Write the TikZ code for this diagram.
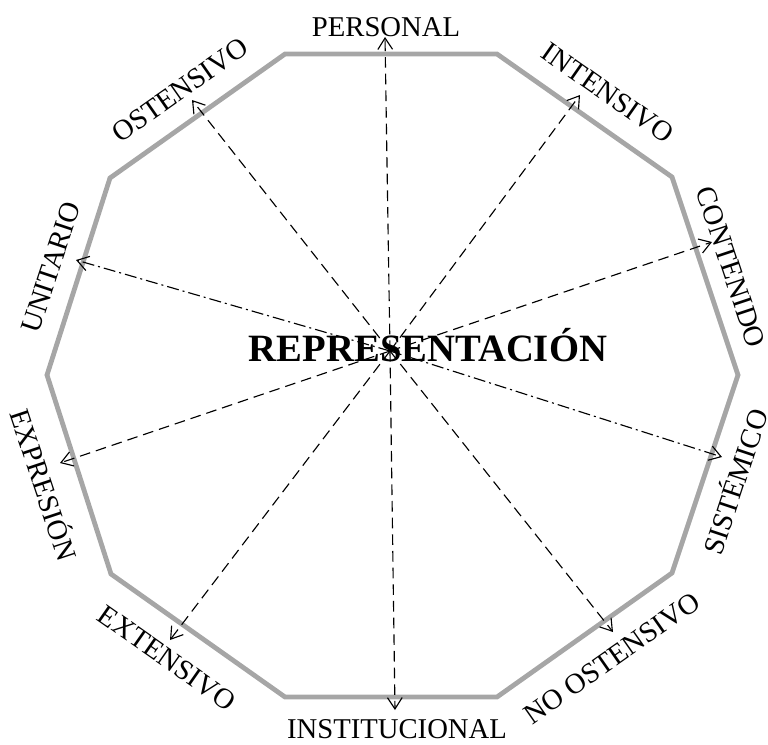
\documentclass[tikz,border=0pt]{standalone}
\usepackage{fontspec}
\setmainfont{Liberation Serif}
\usetikzlibrary{arrows.meta}
\usepackage{xcolor}
\definecolor{bordegris}{HTML}{A6A6A6}

\tikzset{
  rayo/.style={-{Straight Barb[length=8.5pt,width=11pt]},line width=0.85pt,dash pattern=on 8pt off 4.5pt},
  rayopunto/.style={rayo,dash pattern=on 9pt off 3pt on 1.5pt off 3pt},
  etiq/.style={font=\fontsize{21.5}{26}\selectfont,inner sep=0pt,text height=14.2pt,text depth=0pt}
}

\begin{document}
\begin{tikzpicture}[x=0.75pt,y=-0.75pt]
  \useasboundingbox (0,0) rectangle (768,744);
  % decágono
  \draw[bordegris,line width=3.6pt,line join=miter]
    (285,54) -- (497,54) -- (672,177) -- (738,375) -- (672,573)
    -- (497,697) -- (285,697) -- (111,574) -- (47,375) -- (110,178) -- cycle;
  % centro y puntas
  \coordinate (centro) at (390,351);
  \coordinate (pPer) at (385,37);
  \coordinate (pInt) at (580,95);
  \coordinate (pCon) at (712,242);
  \coordinate (pSis) at (722,457);
  \coordinate (pNoo) at (613,632);
  \coordinate (pIns) at (395,710);
  \coordinate (pExt) at (170,640);
  \coordinate (pExp) at (60,463);
  \coordinate (pUni) at (76,260);
  \coordinate (pOst) at (192,100);
  \foreach \p in {pPer,pInt,pCon,pNoo,pIns,pExt,pExp,pOst}
    \draw[rayo] (centro) -- (\p);
  \draw[rayopunto] (centro) -- (pSis);
  \draw[rayopunto] (centro) -- (pUni);
  % etiquetas
  \node[font=\bfseries\fontsize{29}{34}\selectfont,anchor=base] (titulo) at (428,361) {REPRESENTACIÓN};
  \node[etiq] (personal) at (386,27) {PERSONAL};
  \node[etiq,rotate=-35] (intensivo) at (608,93) {INTENSIVO};
  \node[etiq,rotate=-71.6] (contenido) at (731,267) {CONTENIDO};
  \node[etiq,rotate=71.6] (sistemico) at (736,482) {SISTÉMICO};
  \node[etiq,rotate=35] (noostensivo) at (612,658) {NO OSTENSIVO};
  \node[etiq] (institucional) at (397,729) {INSTITUCIONAL};
  \node[etiq,rotate=-35] (extensivo) at (167,658) {EXTENSIVO};
  \node[etiq,rotate=-71.6] (expresion) at (43,485) {EXPRESIÓN};
  \node[etiq,rotate=71.6] (unitario) at (51,267) {UNITARIO};
  \node[etiq,rotate=35] (ostensivo) at (180,90) {OSTENSIVO};
\end{tikzpicture}
\end{document}
